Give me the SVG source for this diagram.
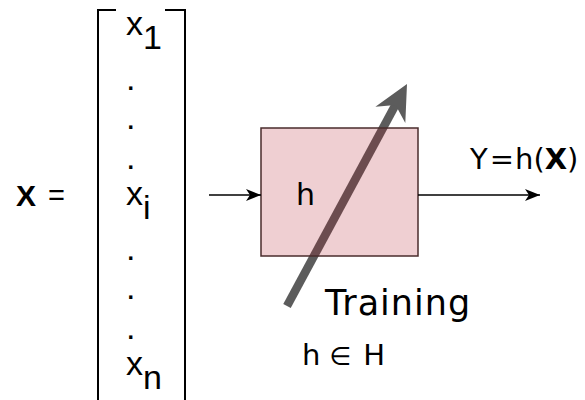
<svg xmlns="http://www.w3.org/2000/svg" width="585" height="400" viewBox="0 0 585 400">
  <style>
    .vec { font-family: "Liberation Sans", Arial, sans-serif; font-size: 34px; fill: #000; }
    .dj { font-family: "DejaVu Sans", sans-serif; fill: #000; }
    .br { fill: none; stroke: #000; stroke-width: 2; }
    .conn { stroke: #000; stroke-width: 1.5; fill: none; }
  </style>
  <defs>
    <marker id="ah" viewBox="0 0 15 12" refX="15" refY="6" markerWidth="15" markerHeight="12" markerUnits="userSpaceOnUse" orient="auto">
      <path d="M0,0 L15,6 L0,12 L4,6 Z" fill="#000"/>
    </marker>
  </defs>
  <rect width="585" height="400" fill="#fff"/>

  <g id="vector-label">
    <text x="16" y="206" font-family="Liberation Sans, Arial, sans-serif" font-size="30" font-weight="bold">X</text>
    <text x="48" y="205" font-family="Liberation Sans, Arial, sans-serif" font-size="29">=</text>
  </g>

  <g id="vector">
    <path class="br" d="M116,10 H98 V401 H116"/>
    <path class="br" d="M165,10 H185 V401 H165"/>
    <text class="vec" x="126" y="35">x<tspan dy="14">1</tspan></text>
    <text class="vec" x="126" y="90">.</text>
    <text class="vec" x="126" y="129">.</text>
    <text class="vec" x="126" y="169">.</text>
    <text class="vec" x="126" y="205">x<tspan dy="14">i</tspan></text>
    <text class="vec" x="126" y="260">.</text>
    <text class="vec" x="126" y="299">.</text>
    <text class="vec" x="126" y="339">.</text>
    <text class="vec" x="126" y="375">x<tspan dy="14">n</tspan></text>
  </g>

  <g id="training-arrow">
    <line x1="287" y1="306" x2="397" y2="102" stroke="#5c5c5c" stroke-width="8.5"/>
    <polygon points="407,84 375.4,106.7 395.6,105.1 405.3,122.9" fill="#5c5c5c"/>
  </g>

  <g id="h-box">
    <rect x="261" y="128" width="157" height="128" fill="#b01020" fill-opacity="0.2" stroke="#4a2c2c" stroke-width="1.5"/>
    <text class="dj" x="296" y="205" font-size="30">h</text>
  </g>

  <g id="connectors">
    <line class="conn" x1="209" y1="195" x2="261" y2="195" marker-end="url(#ah)"/>
    <line class="conn" x1="418" y1="195" x2="540" y2="195" marker-end="url(#ah)"/>
  </g>

  <g id="output-label">
    <text class="dj" x="470" y="169" font-size="29">Y<tspan dx="2">=</tspan><tspan dx="1">h(</tspan><tspan font-weight="bold">X</tspan>)</text>
  </g>

  <g id="training-label">
    <text class="dj" x="325" y="315" font-size="35" letter-spacing="1">Training</text>
  </g>

  <g id="hypothesis-label">
    <text class="dj" x="302" y="365" font-size="29">h<tspan dx="9" font-size="25">∈</tspan><tspan dx="12">H</tspan></text>
  </g>
</svg>
